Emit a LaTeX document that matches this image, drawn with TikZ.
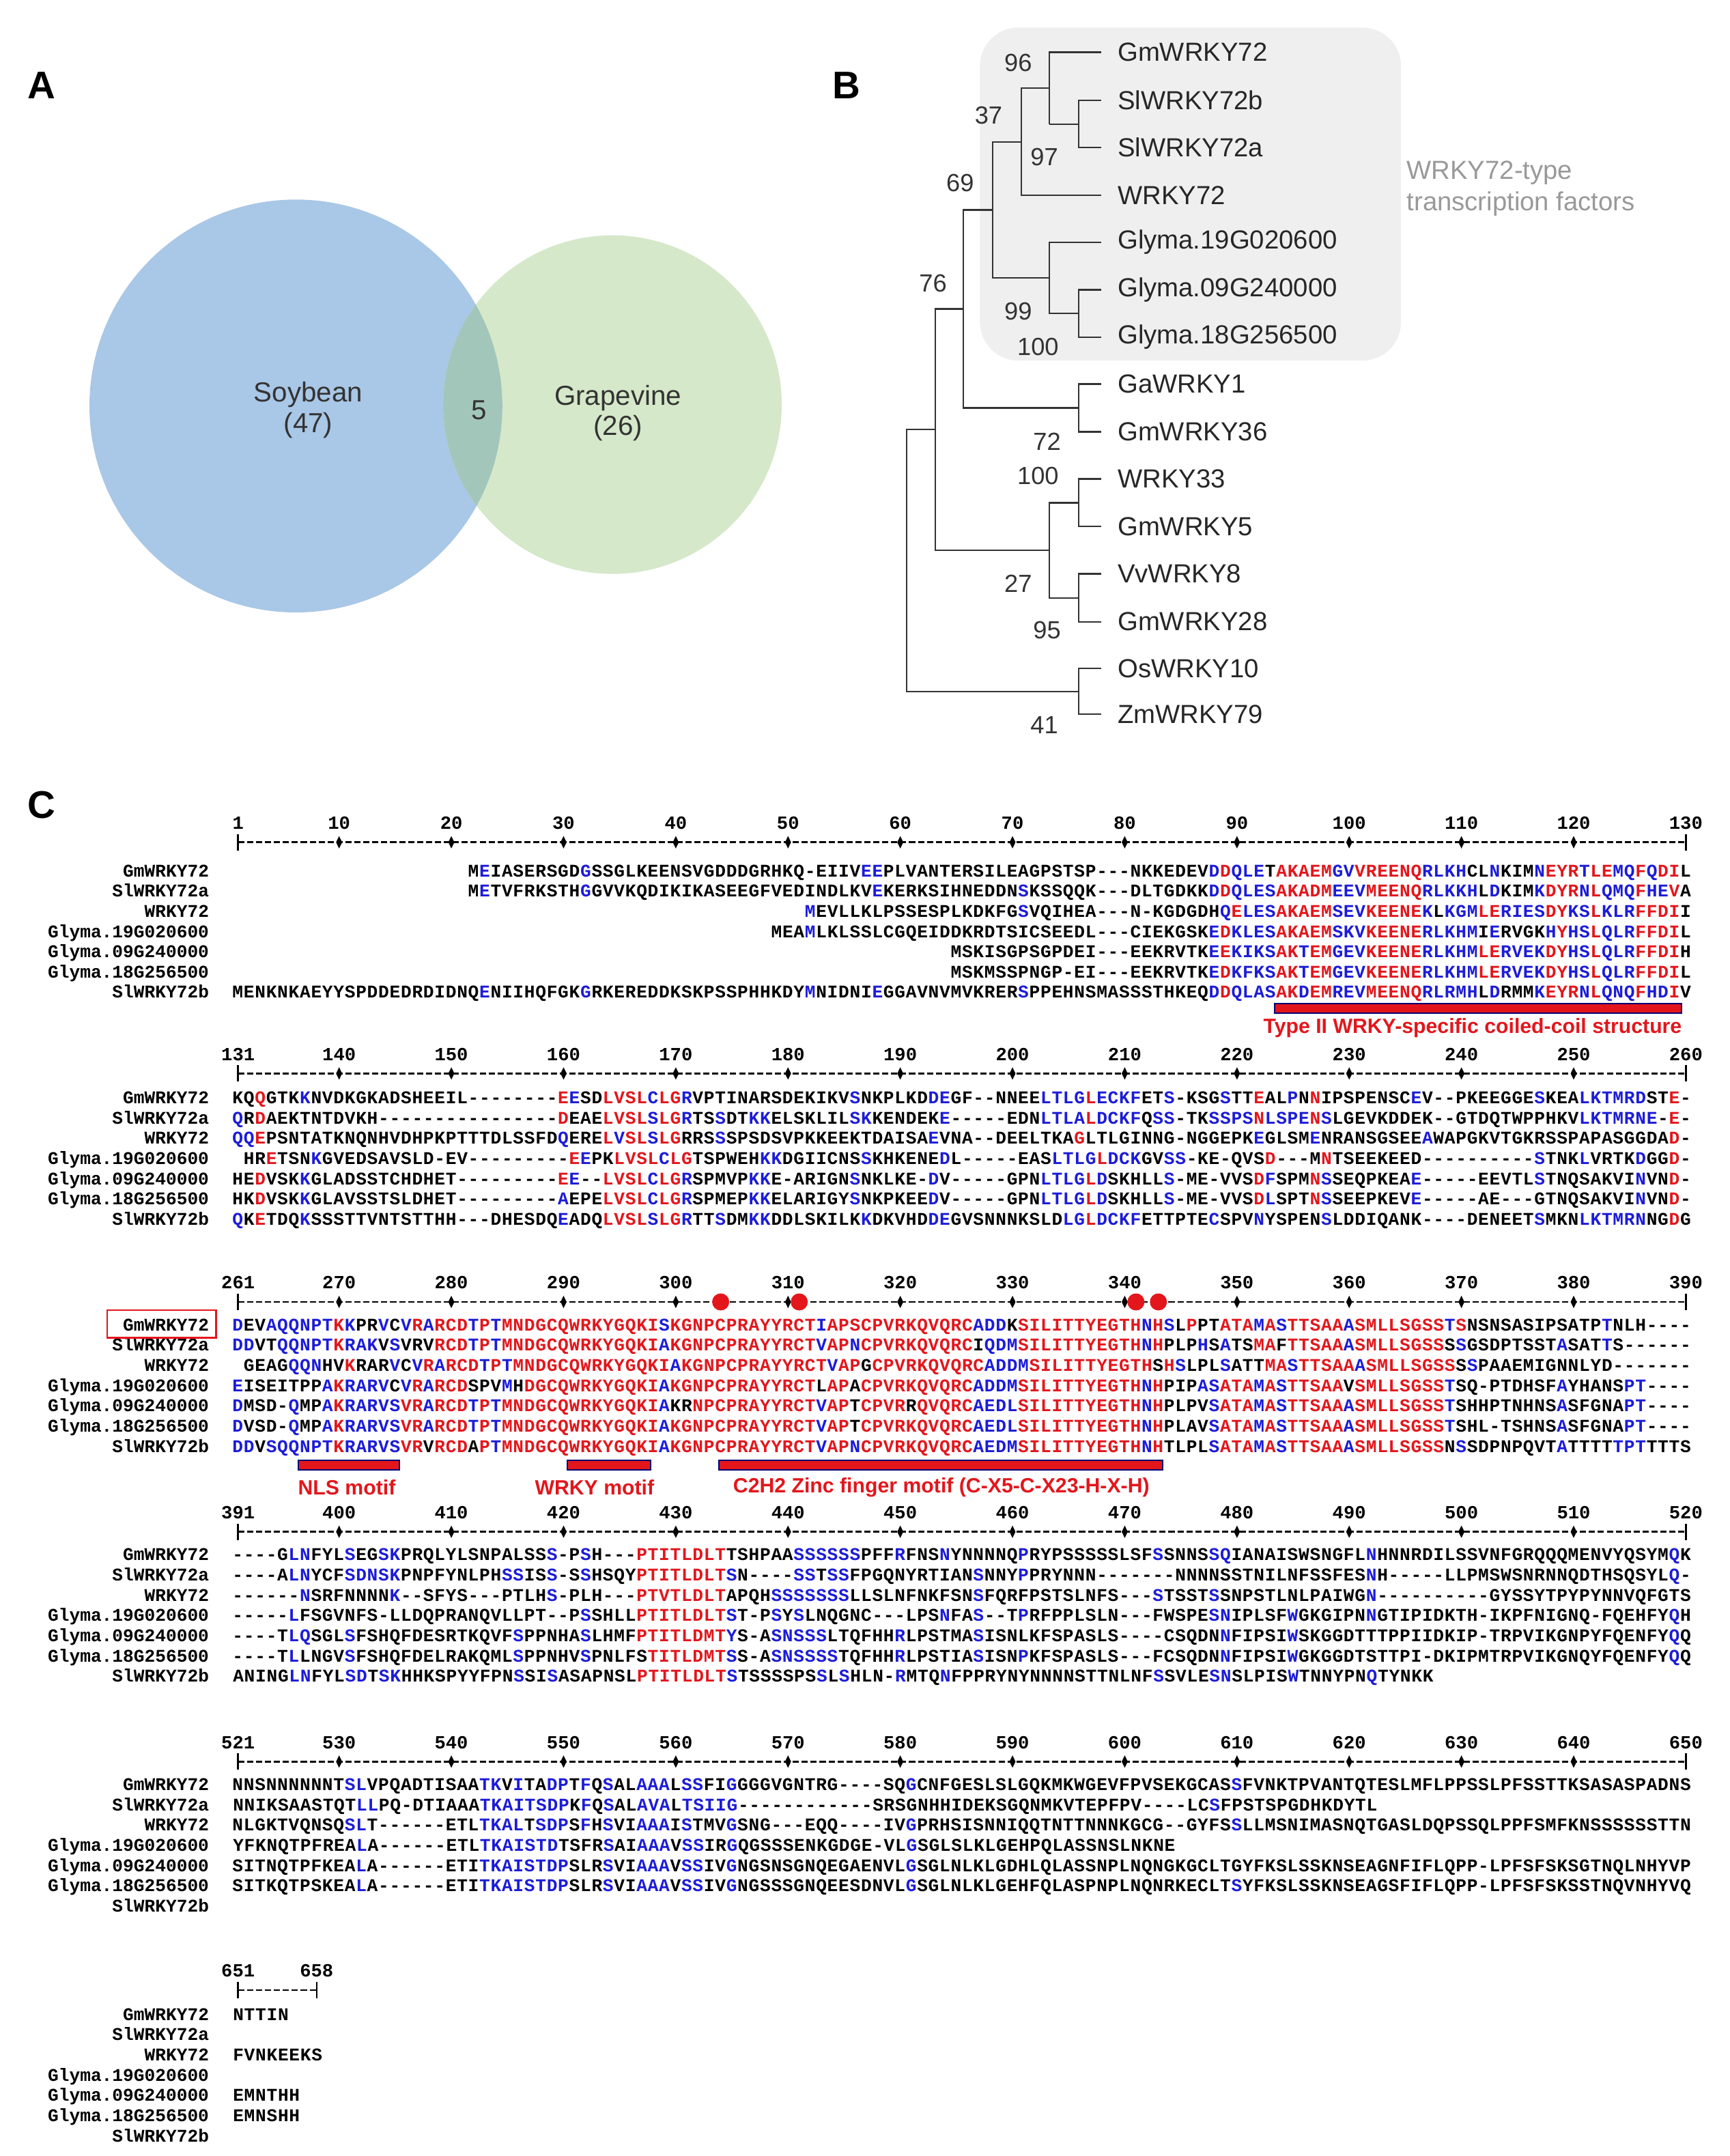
\documentclass[tikz,border=0pt]{standalone}
\usepackage{fontspec}
\setmainfont{Liberation Sans}
\newfontfamily\alfont{Liberation Mono}
\definecolor{alR}{HTML}{E3161C}
\definecolor{alB}{HTML}{1C1CD8}
\definecolor{soy}{HTML}{A9C7E6}
\definecolor{grape}{HTML}{D5E8C9}
\definecolor{ovl}{HTML}{A3C6BB}
\definecolor{boxg}{HTML}{EFEFEF}
\newdimen\alnw \alnw=8.155pt
\ExplSyntaxOn
\tl_new:N \l_aln_col_tl
\NewDocumentCommand\alseq{m}{
  \tl_set:Nn \l_aln_col_tl {black}
  \str_map_inline:nn {#1}{
    \str_case:nnF {##1}{
      {<}{\tl_set:Nn \l_aln_col_tl {alB}}
      {>}{\tl_set:Nn \l_aln_col_tl {black}}
    }{
      \int_compare:nNnTF {`##1} > {90}
        { \makebox[\alnw][c]{\color{alR}\str_uppercase:n{##1}} }
        { \makebox[\alnw][c]{\color{\l_aln_col_tl}##1} }
    }
  }
}
\ExplSyntaxOff
\tikzset{
  sq/.style={inner sep=0pt,font=\alfont\bfseries\fontsize{13}{13}\selectfont},
  nm/.style={inner sep=0pt,font=\alfont\bfseries\fontsize{13}{13}\selectfont},
  num/.style={inner sep=0pt,font=\alfont\bfseries\fontsize{13.5}{13.5}\selectfont},
  motif/.style={inner sep=0pt,text=alR,font=\bfseries\fontsize{15}{15}\selectfont},
  mbar/.style={fill=alR,draw=blue!45!black,line width=1pt},
  leaf/.style={anchor=west,inner sep=0pt,text=black!85,font=\fontsize{19}{19}\selectfont},
  boot/.style={inner sep=0pt,text=black!80,font=\fontsize{18}{18}\selectfont},
  tr/.style={line width=1.1pt,black!80},
  panel/.style={inner sep=0pt,font=\bfseries\fontsize{28}{28}\selectfont},
  venn/.style={inner sep=0pt,text=black!80,font=\fontsize{20}{22}\selectfont,align=center}
}
\newcommand\aL[4]{\node[sq,anchor=base west] at ({173+(#3-#2)*8.155-4.0775},{#1+5}) {\alseq{#4}};}
\newcommand\aR[4]{\node[sq,anchor=base east] at ({173+(#3-#2)*8.155+4.0775},{#1+5}) {\alseq{#4}};}
\newcommand\rulerbase[3]{%
  \draw[line width=1.3pt,dash pattern=on 4.5pt off 2pt] (173,#1+14) -- ({173+(#3-#2)*8.155},#1+14);
  \draw[line width=1.3pt] (173,#1+8) -- (173,#1+20);
  \draw[line width=1.3pt] ({173+(#3-#2)*8.155},#1+8) -- ({173+(#3-#2)*8.155},#1+20);
  \node[num] at (173,#1) {#2};
  \node[num] at ({173+(#3-#2)*8.155},#1) {#3};}
\newcommand\ruler[4]{%
  \rulerbase{#1}{#2}{#3}
  \foreach \c in {#4}{
    \fill ({173+(\c-#2)*8.155},#1+14) +(0,-4.5) -- +(2.2,0) -- +(0,4.5) -- +(-2.2,0) -- cycle;
    \node[num] at ({173+(\c-#2)*8.155},#1) {\c};}}
\newcommand\names[1]{\foreach \n [count=\i from 0] in {GmWRKY72,SlWRKY72a,WRKY72,Glyma.19G020600,Glyma.09G240000,Glyma.18G256500,SlWRKY72b}{\node[nm,anchor=base east] at (152,{#1+\i*14.7+5}) {\n};}}
\begin{document}
\begin{tikzpicture}[x=1pt,y=-1pt]
\useasboundingbox[fill=white] (0,0) rectangle (1257,1566.6);
% ---------- A ----------
\node[panel] (pA) at (30,62) {A};
\fill[soy] (215,295) circle (150);
\fill[grape] (445,294) circle (123);
\begin{scope}\clip (215,295) circle (150); \fill[ovl] (445,294) circle (123);\end{scope}
\node[venn] (soy) at (224,298) {Soybean\\(47)};
\node[venn] (five) at (348,298) {5};
\node[venn] (grape) at (449,300) {Grapevine\\(26)};
% ---------- B ----------
\node[panel] (pB) at (615,62) {B};
\fill[boxg,rounded corners=28pt] (712,20) rectangle (1018,262);
\node[inner sep=0pt,anchor=west,text=black!40,font=\fontsize{19}{23}\selectfont,align=left] (wt) at (1022,137) {WRKY72-type\\transcription factors};
\foreach \t/\y [count=\k] in {GmWRKY72/38,SlWRKY72b/73,SlWRKY72a/107.3,WRKY72/142,Glyma.19G020600/176,Glyma.09G240000/210.6,Glyma.18G256500/245,GaWRKY1/279,GmWRKY36/313.8,WRKY33/348,GmWRKY5/382.6,VvWRKY8/416.9,GmWRKY28/451.8,OsWRKY10/485.8,ZmWRKY79/519}{\node[leaf] (lf\k) at (812,\y) {\t};}
\draw[tr] (800,38) -- (762.6,38) -- (762.6,90.15);
\draw[tr] (800,73) -- (783.6,73) -- (783.6,107.3) -- (800,107.3);
\draw[tr] (783.6,90.15) -- (762.6,90.15);
\draw[tr] (762.6,64.1) -- (742.3,64.1) -- (742.3,142) -- (800,142);
\draw[tr] (800,176) -- (762.6,176) -- (762.6,227.8) -- (783.6,227.8);
\draw[tr] (800,210.6) -- (783.6,210.6) -- (783.6,245) -- (800,245);
\draw[tr] (742.3,103) -- (721.4,103) -- (721.4,201.9) -- (762.6,201.9);
\draw[tr] (800,279) -- (783.6,279) -- (783.6,313.8) -- (800,313.8);
\draw[tr] (721.4,152.5) -- (700.1,152.5) -- (700.1,296.4) -- (783.6,296.4);
\draw[tr] (800,348) -- (783.6,348) -- (783.6,382.6) -- (800,382.6);
\draw[tr] (800,416.9) -- (783.6,416.9) -- (783.6,451.8) -- (800,451.8);
\draw[tr] (783.6,365.3) -- (762.6,365.3) -- (762.6,434.4) -- (783.6,434.4);
\draw[tr] (700.1,224.5) -- (679.6,224.5) -- (679.6,399.9) -- (762.6,399.9);
\draw[tr] (800,485.8) -- (783.6,485.8) -- (783.6,519) -- (800,519);
\draw[tr] (679.6,312.2) -- (658.9,312.2) -- (658.9,502.4) -- (783.6,502.4);
\foreach \v/\x/\y in {96/739.8/45.4,37/718.3/84,97/758.8/114,69/697.6/132.7,76/677.9/206,99/739.8/226,100/754.2/252,72/760.8/320.8,100/754.2/346,27/739.8/424,95/760.8/458,41/758.8/527}{\node[boot] at (\x,\y) {\v};}
% ---------- C ----------
\node[panel] (pC) at (30,585) {C};
% block 1
\ruler{598}{1}{130}{10,20,...,120}
\names{632}
\aR{632}{1}{130}{M<E>IASERSGD<G>SSGLKEENSVGDDDGRHKQ-EIIV<EE>PLVANTERSILEAGPSTSP---NKKEDEV<D>d<QLE>Takaem<GV>vreenq<RLKH>CL<N>KIM<N>eyr<T>le<MQ>f<Q>diL}
\aR{646.7}{1}{130}{M<E>TVFRKSTH<G>GVVKQDIKIKASEEGFVEDINDLKV<E>KERKSIHNEDDN<S>KSSQQK---DLTGDKK<D>d<QLES>akadm<EEV>meenq<RLKKH>L<D>KIM<K>dyr<N>l<QMQ>f<HE>vA}
\aR{661.4}{1}{130}{<M>EVLLKLPSSESPLKDKFG<S>VQIHEA---N-KGDGDH<Q>e<LES>akaem<SEV>keene<K>L<KGM>le<RIES>dy<KS>l<KLR>ffdiI}
\aR{676.1}{1}{130}{MEA<M>LKLSSLCGQEIDDKRDTSICSEEDL---CIEKGSK<E>d<KLES>akaem<SKV>keene<RLKHM>I<E>RVGK<H>y<HS>l<QLR>ffdiL}
\aR{690.8}{1}{130}{MSKISGPSGPDEI---EEKRVTK<E>e<KIKS>ak<T>em<GEV>keene<RLKHM>le<RVEK>dy<HS>l<QLR>ffdiH}
\aR{705.5}{1}{130}{MSKMSSPNGP-EI---EEKRVTK<E>d<KFKS>ak<T>em<GEV>keene<RLKHM>le<RVEK>dy<HS>l<QLR>ffdiL}
\aR{720.2}{1}{130}{MENKNKAEYYSPDDEDRDIDNQ<E>NIIHQFGK<G>RKEREDDKSKPSSPHHKDY<M>NIDNI<E>GGAVNVMVKRER<S>PPEHNSMASSSTHKEQ<D>d<QLAS>ak<D>em<REV>meenq<RLRMH>L<D>RMM<K>eyr<N>l<QNQ>f<HD>iV}
\draw[mbar] (926,729) rectangle (1222,736);
\node[motif] (cc) at (1070,747) {Type II WRKY-specific coiled-coil structure};
% block 2
\ruler{766}{131}{260}{140,150,...,250}
\names{797}
\aR{797}{131}{260}{KQqGTK<K>NVDKGKADSHEEIL--------e<E>SDlvsl<C>lg<R>VPTINARSDEKIKV<S>NKPLKD<DE>GF--NNEE<LTLG>l<ECKF>ET<S>-KSG<S>TTeAL<P>NnIPSPENSC<E>V--PKEEGGE<S>KEA<LKTMRD>STe-}
\aR{811.7}{131}{260}{<Q>RdAEKTNTDVKH----------------dEAElvsl<S>lg<R>TS<S>DT<KK>ELSKLIL<SK>KENDEK<E>-----EDN<LTLA>l<DCKF>Q<SS>-TK<SSPS>n<LSPE>n<S>LGEVKDDEK--GTDQTWPPHKV<LKTMRNE>-e-}
\aR{826.4}{131}{260}{<QQ>ePSNTATKNQNHVDHPKPTTTDLSSFD<Q>EREl<V>sl<S>lgRRS<S>SPSDSVPKKEEKTDAISA<E>VNA--DEELTKAgLTLGINNG-NGGEPK<E>GLSM<E>NRANSGSEE<A>WAPGKVTGKRSSPAPASGGDAd-}
\aR{841.1}{131}{260}{HReTSN<K>GVEDSAVSLD-EV---------e<E>PKlvsl<C>lgTSPWEH<KK>DGIICNS<S>KHKENE<D>L-----EAS<LTLG>l<DCK>GV<SS>-KE-QVSd---MnTSEEKEED----------<S>TNK<L>VRTK<D>GGd-}
\aR{855.8}{131}{260}{HEdVSK<K>GLADSSTCHDHET---------e<E>--lvsl<C>lg<R>SPMVP<KK>E-ARIGN<S>NKLKE-<D>V-----GPN<LTLG>l<D>SKHLL<S>-ME-VVSd<F>SPMn<S>SEQPKEA<E>-----EEVTL<S>TNQSAKVI<N>VNd-}
\aR{870.5}{131}{260}{HKdVSK<K>GLAVSSTSLDHET---------<A>EPElvsl<C>lg<R>SPMEP<KK>ELARIGY<S>NKPKEE<D>V-----GPN<LTLG>l<D>SKHLL<S>-ME-VVSd<L>SPTn<S>SEEPKEV<E>-----AE---GTNQSAKVI<N>VNd-}
\aR{885.2}{131}{260}{<Q>KeTDQ<K>SSSTTVNTSTTHH---DHESDQ<E>ADQlvsl<S>lg<R>TT<S>DM<KK>DDLSKILK<K>DKVHD<DE>GVSNNNKSLD<LG>l<DCKF>ETTPTE<C>SPV<N>YSPEN<S>LDDIQANK----DENEET<S>MKN<LKTMRN>NGdG}
% block 3
\ruler{932}{261}{390}{270,280,...,380}
\foreach \c in {304,311,341,343}{\fill[alR] ({173+(\c-261)*8.155},946) circle (6.2);}
\names{962}
\draw[alR,line width=1.2pt] (78,952) rectangle (157,972);
\aR{962}{261}{390}{<D>EV<AQQNPT>k<K>PR<V>C<V>r<A>rcd<T>p<T>mndgcqwrkygqki<S>kgnpcprayyrct<I>apscpvrkqvqrc<ADD>Ksilittyegth<N>h<S>LpPTata<M>a<S>ttsaa<A>smllsgss<T>sNSNSASIPSATP<T>NLH----}
\aR{976.7}{261}{390}{<DD>VT<QQNPT>k<RAK>V<S>VRVrcd<T>p<T>mndgcqwrkygqki<A>kgnpcprayyrct<V>ap<N>cpvrkqvqrcI<QD><M>silittyegth<N>hPLP<H>S<A>TSmaFttsaa<A>smllsgssS<S>GSDPTSST<A>SAT<T>S------}
\aR{991.4}{261}{390}{GEAG<QQN>HVkRAR<V>C<V>r<A>rcd<T>p<T>mndgcqwrkygqki<A>kgnpcprayyrct<V>apGcpvrkqvqrc<ADD><M>silittyegthSh<S>LPL<S>ATTma<S>ttsaa<A>smllsgssS<S>PAAEMIGNNLYD-------}
\aR{1006.1}{261}{390}{<E>ISEITPP<A>k<RAR><V>C<V>r<A>rcdSPV<M>Hdgcqwrkygqki<A>kgnpcprayyrctLapAcpvrkqvqrc<ADD><M>silittyegth<N>hPIP<AS>ata<M>a<S>ttsaaVsmllsgss<T>SQ-PTDHSF<A>YHANS<PT>----}
\aR{1020.8}{261}{390}{<D>MSD-<Q>MP<A>k<RAR><VS>vr<A>rcd<T>p<T>mndgcqwrkygqki<A>KRnpcprayyrct<V>apTcpvrRqvqrc<AED><L>silittyegth<N>hPLPV<S>ata<M>a<S>ttsaa<A>smllsgss<T>SHHPTNHNS<A>SFGNA<PT>----}
\aR{1035.5}{261}{390}{<D>VSD-<Q>MP<A>k<RAR><VS>vr<A>rcd<T>p<T>mndgcqwrkygqki<A>kgnpcprayyrct<V>apTcpvrkqvqrc<AED><L>silittyegth<N>hPLAV<S>ata<M>a<S>ttsaa<A>smllsgss<T>SHL-TSHNS<A>SFGNA<PT>----}
\aR{1050.2}{261}{390}{<DD>V<SQQNPT>k<RAR><VS>vrVrcdAp<T>mndgcqwrkygqki<A>kgnpcprayyrct<V>ap<N>cpvrkqvqrc<AED><M>silittyegth<N>hTLPL<S>ata<M>a<S>ttsaa<A>smllsgssN<S>SDPNPQVT<A>TTTT<TPT>TTTS}
\draw[mbar] (216.6,1061) rectangle (290,1068);
\draw[mbar] (412.4,1061) rectangle (472.8,1068);
\draw[mbar] (522.4,1061) rectangle (845,1068);
\node[motif] (nls) at (252,1081) {NLS motif};
\node[motif] (wrky) at (432,1081) {WRKY motif};
\node[motif] (c2h2) at (684,1081) {C2H2 Zinc finger motif (C-X5-C-X23-H-X-H)};
% block 4
\ruler{1099}{391}{520}{400,410,...,510}
\names{1129}
\aR{1129}{391}{520}{----G<LN>FYL<S>EG<SK>PRQLYLSNPALSS<S>-P<S>H---ptitldltTSHPAA<SSSSSS>PFF<R>FNS<N>YNNNNQ<P>RYPSSSSSLSF<S>SNNS<SQ>IANAISWSNGFL<N>HNNRDILSSVNFGRQQQMENVYQSYM<Q>K}
\aR{1143.7}{391}{520}{----A<LN>YCF<SDN><SK>PNPFYNLPH<SS>IS<S>-S<S>HSQYptitldlt<S>N----<SS>T<SS>FPGQNYRTIAN<S>NNY<P>PRYNNN-------NNNNSSTNILNFSSFES<N>H-----LLPMSWSNRNNQDTHSQSYL<Q>-}
\aR{1158.4}{391}{520}{------<N>SRFNNNN<K>--SFYS---PTLH<S>-PLH---ptvtldltAPQH<SSSSSSS>LLSLNFNKFSN<S>FQRFPSTSLNFS---<S>TSST<S>SNPSTLNLPAIWG<N>----------GYSSYTPYPYNNVQFGTS}
\aR{1173.1}{391}{520}{-----<L>FSGVNFS-LLDQPRANQVLLPT--P<S>SHLLptitldlt<S>T-P<S>Y<S>LNQGNC---LPS<N>FA<S>--T<P>RFPPLSLN---FWSPE<SN>IPLSF<W>GKGIPN<N>GTIPIDKTH-IKPFNIGNQ-FQEHFY<Q>H}
\aR{1187.8}{391}{520}{----T<LQ>SGL<S>FSHQFDESRTKQVF<S>PPNHA<S>LHMFptitldmt<Y>S-A<SN><SSS>LTQFHH<R>LPSTMA<S>ISNLKFSPASLS----CSQDN<N>FIPSI<W>SKGGDTTTPPIIDKIP-TRPVIKGNPYFQENFY<Q>Q}
\aR{1202.5}{391}{520}{----T<L>LNGV<S>FSHQFDELRAKQML<S>PPNHV<S>PNLFStitldmt<S>S-A<SN><SSSS>TQFHH<R>LPSTIA<S>ISN<P>KFSPASLS---FCSQDN<N>FIPSI<W>GKGGDTSTTPI-DKIPMTRPVIKGNQYFQENFY<Q>Q}
\aL{1217.2}{391}{391}{ANING<LN>FYL<SD>T<SK>HHKSPYYFPN<S>SI<S>ASAPNSLptitldlt<S>TSSSSPS<S>L<S>HLN-<R>MTQ<N>FPPRYNYNNNNSTTNLNF<S>SVLE<SN>SLPIS<W>TNNYPN<Q>TYNKK}
% block 5
\ruler{1266}{521}{650}{530,540,...,640}
\names{1296}
\aR{1296}{521}{650}{NNSNNNNNNT<SL>VPQADTISAA<TK>V<I>TA<DP>T<F>Q<S>AL<AAA>L<SS>FI<G>GGGVGNTRG----SQ<G>CNFGESLSLGQKMKWGEVFPVSEKGCAS<S>FVNKTPVANTQTESLMFLPPSSLPFSSTTKSASASPADNS}
\aL{1310.7}{521}{521}{NNIKSAASTQT<LL>PQ-DTIAAA<TKAITS><DP>K<F>Q<S>AL<AVA>L<TSIIG>------------SRSGNHHIDEKSGQNMKVTEPFPV----LC<S>FPSTSPGDHKDYTL}
\aR{1325.4}{521}{650}{NLGKTVQNSQ<SL>T------ETL<TKAL>T<SDP>S<F>H<S>VI<AAA>I<S>TMV<G>SNG---EQQ----IV<G>PRHSISNNIQQTNTTNNNKGCG--GYFS<S>LLMSNIMASNQTGASLDQPSSQLPPFSMFKNSSSSSSTTN}
\aL{1340.1}{521}{521}{YFKNQTPFREA<L>A------ETL<TKAIST><D>TSFR<S>AI<AAA>V<SS>IR<G>QGSSSENKGDGE-VL<G>SGLSLKLGEHPQLASSNSLNKNE}
\aR{1354.8}{521}{650}{SITNQTPFKEA<L>A------ETI<TKAIST><DP>SLR<S>VI<AAA>V<SS>IV<G>NGSNSGNQEGAENVL<G>SGLNLKLGDHLQLASSNPLNQNGKGCLTGYFKSLSSKNSEAGNFIFLQPP-LPFSFSKSGTNQLNHYVP}
\aR{1369.5}{521}{650}{SITKQTPSKEA<L>A------ETI<TKAIST><DP>SLR<S>VI<AAA>V<SS>IV<G>NGSSSGNQEESDNVL<G>SGLNLKLGEHFQLASPNPLNQNRKECLT<S>YFKSLSSKNSEAGSFIFLQPP-LPFSFSKSSTNQVNHYVQ}
% block 6
\rulerbase{1432}{651}{658}
\names{1463}
\aL{1463}{651}{651}{NTTIN}
\aL{1492.4}{651}{651}{FVNKEEKS}
\aL{1521.8}{651}{651}{EMNTHH}
\aL{1536.5}{651}{651}{EMNSHH}
\end{tikzpicture}
\end{document}
